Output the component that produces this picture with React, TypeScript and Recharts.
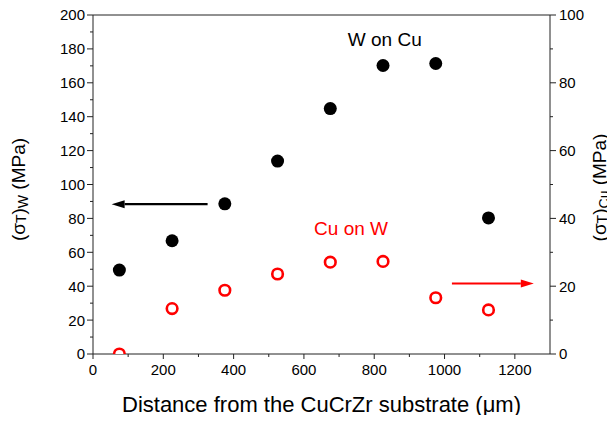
import React from 'react';
import { ScatterChart, Scatter, XAxis, YAxis, ReferenceLine, ReferenceDot } from 'recharts';

const distance = [75, 225, 375, 525, 675, 825, 975, 1125];
const wOnCu = [49.5, 66.8, 88.6, 113.8, 144.8, 170.2, 171.4, 80.3];
const cuOnW = [0, 13.4, 18.8, 23.6, 27.1, 27.3, 16.6, 13.0];

const xTicks = [0, 100, 200, 300, 400, 500, 600, 700, 800, 900, 1000, 1100, 1200];
const leftTicks = [0, 10, 20, 30, 40, 50, 60, 70, 80, 90, 100, 110, 120, 130, 140, 150, 160, 170, 180, 190, 200];
const rightTicks = [0, 10, 20, 30, 40, 50, 60, 70, 80, 90, 100];

const wData = distance.map((x, i) => ({ x, y: wOnCu[i] }));
const cuData = distance.map((x, i) => ({ x, y: cuOnW[i] }));

const FONT = '"Liberation Sans", Arial, sans-serif';
const AXIS = '#222';

const XTick = (props: any) => {
  const { x, y, payload } = props;
  const major = payload.value % 200 === 0;
  return (
    <g>
      <line x1={x} y1={y} x2={x} y2={y + (major ? 5 : 3)} stroke={AXIS} />
      {major && (
        <text x={x} y={y + 21} textAnchor="middle" fontSize={15} fontFamily={FONT} fill="#000">
          {payload.value}
        </text>
      )}
    </g>
  );
};

const LeftTick = (props: any) => {
  const { x, y, payload } = props;
  const major = payload.value % 20 === 0;
  return (
    <g>
      <line x1={x} y1={y} x2={x - (major ? 6 : 3)} y2={y} stroke={AXIS} />
      {major && (
        <text x={x - 8} y={y} dy="0.36em" textAnchor="end" fontSize={15} fontFamily={FONT} fill="#000">
          {payload.value}
        </text>
      )}
    </g>
  );
};

const RightTick = (props: any) => {
  const { x, y, payload } = props;
  const major = payload.value % 20 === 0;
  return (
    <g>
      <line x1={x} y1={y} x2={x + (major ? 6 : 3)} y2={y} stroke={AXIS} />
      {major && (
        <text x={x + 9} y={y} dy="0.36em" textAnchor="start" fontSize={15} fontFamily={FONT} fill="#000">
          {payload.value}
        </text>
      )}
    </g>
  );
};

// rotated label like (σT)W (MPa)
const StressLabel = ({ cx, cy, sub }: { cx: number; cy: number; sub: string }) => (
  <text
    x={cx}
    y={cy}
    transform={`rotate(-90, ${cx}, ${cy})`}
    textAnchor="middle"
    dominantBaseline="central"
    fontSize={19}
    fontFamily={FONT}
    fill="#000"
  >
    (σ
    <tspan fontSize={14} dy={3}>T</tspan>
    <tspan dy={-3}>)</tspan>
    <tspan fontSize={14} dy={5}>{sub}</tspan>
    <tspan dy={-5}> (MPa)</tspan>
  </text>
);

const Arrow = (props: any) => {
  const { x1, y1, x2, y2, stroke } = props;
  const dir = x2 > x1 ? 1 : -1;
  const head = 13;
  return (
    <g>
      <line x1={x1} y1={y1} x2={x2 - dir * head} y2={y2} stroke={stroke} strokeWidth={2.2} />
      <polygon
        points={`${x2},${y2} ${x2 - dir * head},${y2 - 4} ${x2 - dir * head},${y2 + 4}`}
        fill={stroke}
      />
    </g>
  );
};

const StressChart: React.FC = () => {
  return (
    <div style={{ margin: -8, width: 615, height: 423, overflow: 'hidden' }}>
      <ScatterChart width={615} height={423} margin={{ top: 15, right: 0, bottom: 0, left: 0 }}>
        <XAxis
          type="number"
          dataKey="x"
          domain={[0, 1300]}
          ticks={xTicks}
          interval={0}
          tickSize={0}
          tickMargin={0}
          tickLine={false}
          tick={<XTick />}
          height={69}
          stroke={AXIS}
          label={(p: any) => (
            <text
              x={p.viewBox.x + p.viewBox.width / 2}
              y={p.viewBox.y + 58}
              textAnchor="middle"
              fontSize={22}
              fontFamily={FONT}
              fill="#000"
            >
              Distance from the CuCrZr substrate (μm)
            </text>
          )}
        />
        <YAxis
          yAxisId="left"
          type="number"
          dataKey="y"
          domain={[0, 200]}
          ticks={leftTicks}
          interval={0}
          tickSize={0}
          tickMargin={0}
          tickLine={false}
          tick={<LeftTick />}
          width={93}
          stroke={AXIS}
          label={(p: any) => (
            <StressLabel cx={p.viewBox.x + 18} cy={p.viewBox.y + p.viewBox.height / 2 + 5} sub="W" />
          )}
        />
        <YAxis
          yAxisId="right"
          orientation="right"
          type="number"
          dataKey="y"
          domain={[0, 100]}
          allowDataOverflow
          ticks={rightTicks}
          interval={0}
          tickSize={0}
          tickMargin={0}
          tickLine={false}
          tick={<RightTick />}
          width={65}
          stroke={AXIS}
          label={(p: any) => (
            <StressLabel cx={p.viewBox.x + 49} cy={p.viewBox.y + p.viewBox.height / 2 + 3} sub="Cu" />
          )}
        />
        <ReferenceLine yAxisId="left" y={200} stroke={AXIS} />
        <Scatter
          yAxisId="left"
          data={wData}
          isAnimationActive={false}
          shape={(p: any) => <circle cx={p.cx} cy={p.cy} r={6.5} fill="#000" />}
        />
        <Scatter
          yAxisId="right"
          data={cuData}
          isAnimationActive={false}
          shape={(p: any) => (
            <circle cx={p.cx} cy={p.cy} r={5.3} fill="#fff" stroke="#ff0000" strokeWidth={2.6} />
          )}
        />
        <ReferenceLine
          yAxisId="left"
          segment={[{ x: 326, y: 88.4 }, { x: 53, y: 88.4 }]}
          stroke="#000"
          shape={<Arrow />}
        />
        <ReferenceLine
          yAxisId="right"
          segment={[{ x: 1021, y: 20.8 }, { x: 1254, y: 20.8 }]}
          stroke="#ff0000"
          shape={<Arrow />}
        />
        <ReferenceDot
          yAxisId="left"
          x={830}
          y={181.5}
          shape={(p: any) => (
            <text x={p.cx} y={p.cy} textAnchor="middle" fontSize={19} fontFamily={FONT} fill="#000">
              W on Cu
            </text>
          )}
        />
        <ReferenceDot
          yAxisId="right"
          x={734}
          y={35}
          shape={(p: any) => (
            <text x={p.cx} y={p.cy} textAnchor="middle" fontSize={19} fontFamily={FONT} fill="#ff0000">
              Cu on W
            </text>
          )}
        />
      </ScatterChart>
    </div>
  );
};

export default StressChart;
